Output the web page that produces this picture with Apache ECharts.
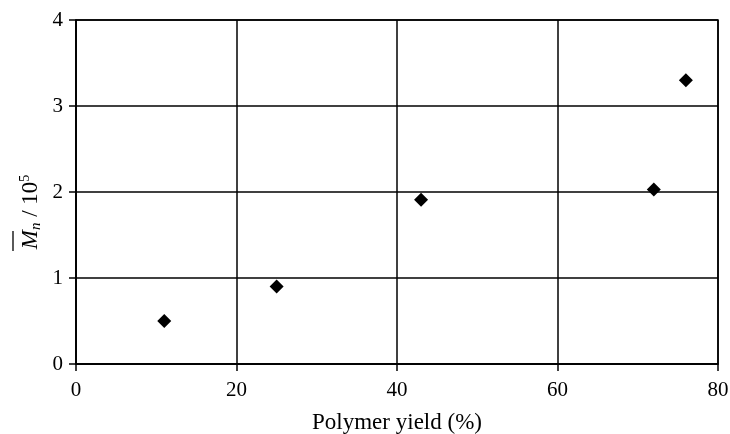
<!DOCTYPE html>
<html>
<head>
<meta charset="utf-8">
<script src="https://cdn.jsdelivr.net/npm/echarts@6/dist/echarts.min.js"></script>
<style>
  html, body { margin: 0; padding: 0; background: #fff; }
  #chart { width: 730px; height: 434px; }
</style>
</head>
<body>
<div id="chart"></div>
<script>
// ── Mn vs polymer yield ──

const yieldPct = [11, 25, 43, 72, 76];
const mnE5 = [0.5, 0.9, 1.91, 2.03, 3.3];
const xTicks = [0, 20, 40, 60, 80];
const yTicks = [0, 1, 2, 3, 4];

const serif = '"Liberation Serif", "DejaVu Serif", serif';

const chart = echarts.init(document.getElementById('chart'));
chart.setOption({
  backgroundColor: '#fff',
  animation: false,
  grid: {
    left: 76, right: 12, top: 20, bottom: 70, outerBoundsMode: 'none', containLabel: false,
    show: true, borderColor: '#000', borderWidth: 1.5,
  },
  xAxis: {
    type: 'value', min: xTicks[0], max: xTicks[xTicks.length - 1], interval: 20,
    name: 'Polymer yield (%)', nameLocation: 'middle', nameGap: 47,
    nameTextStyle: { fontFamily: serif, fontSize: 23, color: '#000' },
    axisLine: { show: true, lineStyle: { color: '#000', width: 1.5 } },
    axisTick: { show: true, inside: false, length: 7, lineStyle: { color: '#000', width: 1.5 } },
    axisLabel: { fontFamily: serif, fontSize: 21, color: '#000', margin: 16 },
    splitLine: { show: true, lineStyle: { color: '#000', width: 1.5 } },
  },
  yAxis: {
    type: 'value', min: yTicks[0], max: yTicks[yTicks.length - 1], interval: 1,
    axisLine: { show: true, lineStyle: { color: '#000', width: 1.5 } },
    axisTick: { show: true, inside: false, length: 7, lineStyle: { color: '#000', width: 1.5 } },
    axisLabel: { fontFamily: serif, fontSize: 21, color: '#000', margin: 13 },
    splitLine: { show: true, lineStyle: { color: '#000', width: 1.5 } },
  },
  graphic: [
    {
      type: 'text', x: 31, y: 212, rotation: Math.PI / 2,
      style: {
        text: '{m|M}{n|n}{r| / 10}{s|5}',
        align: 'center', verticalAlign: 'middle',
        rich: {
          m: { fontFamily: serif, fontStyle: 'italic', fontSize: 23, fill: '#000', lineHeight: 26 },
          n: { fontFamily: serif, fontStyle: 'italic', fontSize: 15, fill: '#000', verticalAlign: 'bottom', lineHeight: 26 },
          r: { fontFamily: serif, fontSize: 23, fill: '#000', lineHeight: 26 },
          s: { fontFamily: serif, fontSize: 14, fill: '#000', verticalAlign: 'top', lineHeight: 26 },
        },
      },
    },
    // overline over M
    { type: 'line', shape: { x1: 13, y1: 231, x2: 13, y2: 251 }, style: { stroke: '#000', lineWidth: 1.3 } },
  ],
  series: [{
    type: 'scatter',
    data: yieldPct.map((x, i) => [x, mnE5[i]]),
    symbol: 'diamond', symbolSize: 14,
    itemStyle: { color: '#000', opacity: 1 },
  }],
});
</script>
</body>
</html>
